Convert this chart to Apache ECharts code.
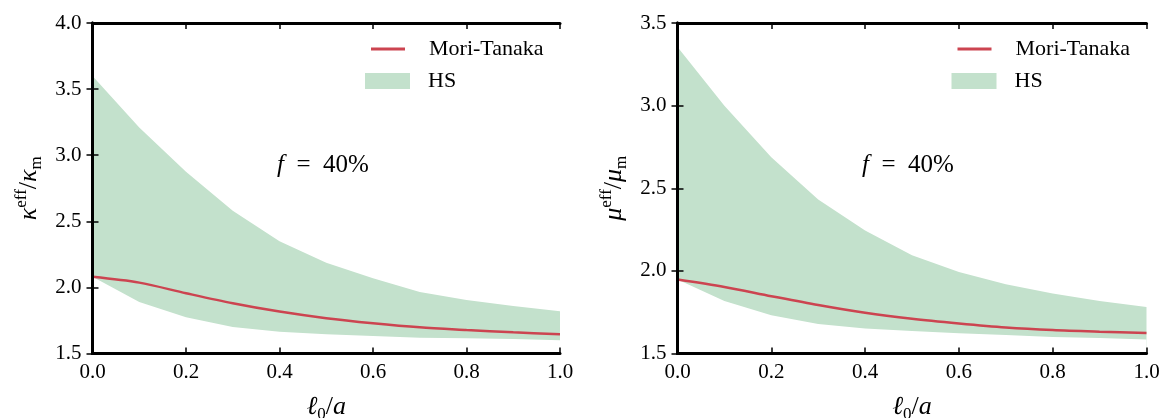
<!DOCTYPE html>
<html>
<head>
<meta charset="utf-8">
<script src="https://cdn.jsdelivr.net/npm/echarts@6/dist/echarts.min.js"></script>
<style>
  html, body { margin: 0; padding: 0; background: #fff; }
  #chart { width: 1163px; height: 418px; }
</style>
</head>
<body>
<div id="chart"></div>
<script>
// x values (l0/a)
var xs = [0.0, 0.1, 0.2, 0.3, 0.4, 0.5, 0.6, 0.7, 0.8, 0.9, 1.0];

// bulk modulus ratio  (left panel)
var kMT  = [2.08, 2.036, 1.956, 1.88, 1.817, 1.767, 1.729, 1.698, 1.678, 1.66, 1.645];
var kLow = [2.08, 1.89, 1.774, 1.70, 1.665, 1.645, 1.632, 1.62, 1.615, 1.61, 1.60];
var kUp  = [3.60, 3.21, 2.875, 2.58, 2.35, 2.186, 2.07, 1.966, 1.905, 1.86, 1.82];

// shear modulus ratio (right panel)
var mMT  = [1.948, 1.903, 1.847, 1.793, 1.746, 1.71, 1.682, 1.658, 1.642, 1.632, 1.624];
var mLow = [1.948, 1.817, 1.732, 1.678, 1.652, 1.636, 1.622, 1.612, 1.60, 1.594, 1.585];
var mUp  = [3.355, 3.0, 2.687, 2.432, 2.245, 2.094, 1.993, 1.919, 1.863, 1.818, 1.782];

var xTicks = [0, 1, 0.2];
var kTicks = [1.5, 4.0, 0.5];
var mTicks = [1.5, 3.5, 0.5];

var FONT = '"Liberation Serif", "DejaVu Serif", serif';
var RED = '#cc4450';
var GREEN = '#c3e1cc';

var dom = document.getElementById('chart');
var myChart = echarts.init(dom, null, { renderer: 'canvas' });

function pairs(a) {
    var out = [];
    for (var i = 0; i < xs.length; i++) {
        out.push([xs[i], a[i]]);
    }
    return out;
}

var tickStyle = { show: true, inside: true, length: 6, lineStyle: { color: '#000', width: 1.5 } };
var lineStyle = { show: true, lineStyle: { color: '#000', width: 3 } };

var mathRich = {
    it: { fontFamily: FONT, fontStyle: 'italic', fontSize: 26, color: '#000', lineHeight: 32 },
    n: { fontFamily: FONT, fontSize: 26, color: '#000', lineHeight: 32 },
    sup: { fontFamily: FONT, fontSize: 17, color: '#000', lineHeight: 18, verticalAlign: 'top' },
    sub: { fontFamily: FONT, fontSize: 17, color: '#000', lineHeight: 12, verticalAlign: 'bottom' }
};

function xAxes(grid) {
    return [{
        gridIndex: grid, type: 'value', min: xTicks[0], max: xTicks[1], interval: xTicks[2],
        position: 'bottom', z: 10,
        axisLine: lineStyle, axisTick: tickStyle, splitLine: { show: false },
        axisLabel: {
            color: '#000', fontFamily: FONT, fontSize: 21, margin: 8,
            formatter: function (v) { return v.toFixed(1); }
        },
        name: '{it|ℓ}{sub|0}{n|/}{it|a}', nameLocation: 'middle', nameGap: 38,
        nameTextStyle: { rich: mathRich }
    }, {
        gridIndex: grid, type: 'value', min: xTicks[0], max: xTicks[1], interval: xTicks[2],
        position: 'top', z: 10,
        axisLine: lineStyle, axisTick: tickStyle, splitLine: { show: false },
        axisLabel: { show: false }
    }];
}

function yAxes(grid, t, label) {
    return [{
        gridIndex: grid, type: 'value', min: t[0], max: t[1], interval: t[2],
        position: 'left', z: 10,
        axisLine: lineStyle, axisTick: tickStyle, splitLine: { show: false },
        axisLabel: {
            color: '#000', fontFamily: FONT, fontSize: 21, margin: 11,
            formatter: function (v) { return v.toFixed(1); }
        },
        name: label, nameLocation: 'middle', nameGap: 47,
        nameTextStyle: { rich: mathRich }
    }, {
        gridIndex: grid, type: 'value', min: t[0], max: t[1], interval: t[2],
        position: 'right', z: 10,
        axisLine: lineStyle, axisTick: tickStyle, splitLine: { show: false },
        axisLabel: { show: false }
    }];
}

// HS band: upper bound filled green down to the axis, lower bound filled white on top
function panelSeries(grid, low, up, mt) {
    var xi = grid * 2, yi = grid * 2;
    return [{
        name: 'HS', type: 'line', xAxisIndex: xi, yAxisIndex: yi,
        data: pairs(up), showSymbol: false, silent: true, z: 2,
        color: GREEN, itemStyle: { color: GREEN },
        lineStyle: { width: 0, opacity: 0 },
        areaStyle: { color: GREEN, opacity: 1, origin: 'start' }
    }, {
        name: 'low' + grid, type: 'line', xAxisIndex: xi, yAxisIndex: yi,
        data: pairs(low), showSymbol: false, silent: true, z: 3,
        lineStyle: { width: 0, opacity: 0 },
        areaStyle: { color: '#fff', opacity: 1, origin: 'start' }
    }, {
        name: 'Mori-Tanaka', type: 'line', xAxisIndex: xi, yAxisIndex: yi,
        data: pairs(mt), showSymbol: false, smooth: 0.3, z: 5,
        color: RED, itemStyle: { color: RED },
        lineStyle: { color: RED, width: 2.5 }
    }];
}

function legends(plotRight) {
    var lt = { color: '#000', fontFamily: FONT, fontSize: 22 };
    return [{
        data: [{ name: 'Mori-Tanaka', itemStyle: { color: RED } }],
        left: plotRight - 189, top: 38, padding: 0, icon: 'rect',
        itemWidth: 34, itemHeight: 3, selectedMode: false,
        textStyle: Object.assign({ padding: [0, 0, 0, 19] }, lt)
    }, {
        data: [{ name: 'HS', itemStyle: { color: GREEN } }],
        left: plotRight - 195, top: 70, padding: 0, icon: 'rect',
        itemWidth: 45, itemHeight: 16, selectedMode: false,
        textStyle: Object.assign({ padding: [0, 0, 0, 13] }, lt)
    }];
}

function fText(left) {
    return {
        type: 'text', left: left, top: 153,
        style: {
            text: '{i|f}{n|  =  40%}',
            rich: {
                i: { fontFamily: FONT, fontStyle: 'italic', fontSize: 25, fill: '#000' },
                n: { fontFamily: FONT, fontSize: 25, fill: '#000' }
            }
        }
    };
}

var option = {
    animation: false,
    backgroundColor: '#fff',
    grid: [
        { left: 92.5, right: 603, top: 23, bottom: 64.5, outerBoundsMode: 'none' },
        { left: 677.5, right: 16.5, top: 23, bottom: 64.5, outerBoundsMode: 'none' }
    ],
    xAxis: xAxes(0).concat(xAxes(1)),
    yAxis: yAxes(0, kTicks, '{it|κ}{sup|eff}{n|/}{it|κ}{sub|m}')
        .concat(yAxes(1, mTicks, '{it|μ}{sup|eff}{n|/}{it|μ}{sub|m}')),
    legend: legends(560).concat(legends(1146.5)),
    graphic: [fText(277), fText(862)],
    series: panelSeries(0, kLow, kUp, kMT).concat(panelSeries(1, mLow, mUp, mMT))
};

myChart.setOption(option);
</script>
</body>
</html>
